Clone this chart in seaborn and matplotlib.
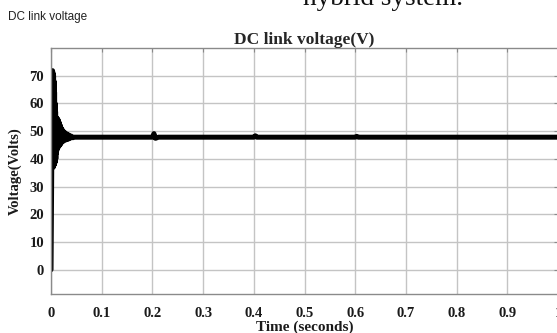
import matplotlib.pyplot as plt
import seaborn as sns
import pandas as pd

# DC link voltage trace (seconds, volts)
time_s = [0.0, 0.0015, 0.0020, 0.0025, 0.0030, 0.0035, 0.0040, 0.0045, 0.0050, 0.0055,
          0.0060, 0.0065, 0.0070, 0.0075, 0.0080, 0.0085, 0.0090, 0.0095, 0.0100, 0.0105,
          0.0110, 0.0115, 0.0120, 0.0125, 0.0130, 0.0135, 0.0140, 0.0145, 0.0150, 0.0155,
          0.0160, 0.0165, 0.0170, 0.0175, 0.0180, 0.0185, 0.0190, 0.0195, 0.0200, 0.0210,
          0.0220, 0.0230, 0.0240, 0.0250, 0.0270, 0.0290, 0.0310, 0.0330, 0.0350, 0.0370,
          0.0400, 0.0430, 0.0460,
          0.200, 0.203, 0.206, 0.212,
          0.400, 0.403, 0.406,
          0.600, 0.603, 0.606, 1.05]
voltage = [0.0, 40.0, 71.5, 38.0, 71.8, 37.0, 71.0, 37.0, 70.0, 37.5,
           68.0, 38.0, 64.0, 38.5, 60.0, 39.0, 57.0, 40.0, 55.0, 42.0,
           54.5, 43.0, 54.5, 44.0, 54.3, 44.0, 54.0, 44.5, 53.5, 44.5,
           53.0, 45.0, 52.5, 45.0, 52.0, 45.5, 51.5, 45.5, 51.0, 46.0,
           50.5, 46.2, 50.0, 46.5, 49.5, 46.8, 49.0, 47.0, 48.6, 47.3,
           48.2, 47.6, 47.8,
           47.8, 49.1, 47.4, 47.8,
           47.8, 48.3, 47.8,
           47.8, 48.1, 47.8, 47.8]

x_ticks = [0, 0.1, 0.2, 0.3, 0.4, 0.5, 0.6, 0.7, 0.8, 0.9, 1.0]
x_tick_labels = ["0", "0.1", "0.2", "0.3", "0.4", "0.5", "0.6", "0.7", "0.8", "0.9", "1"]
y_ticks = [0, 10, 20, 30, 40, 50, 60, 70]

df = pd.DataFrame({"Time": time_s, "Voltage": voltage})

sns.set_style("whitegrid")
plt.rcParams["font.family"] = ["Liberation Serif", "DejaVu Serif"]

fig = plt.figure(figsize=(5.57, 3.33), dpi=100)
ax = fig.add_axes([0.0916, 0.117, 0.9102, 0.739])

sns.lineplot(data=df, x="Time", y="Voltage", color="black", linewidth=3.6,
             sort=False, estimator=None, ax=ax)

ax.set_xlim(0, 1.0)
ax.set_ylim(-8.8, 80)
ax.set_xticks(x_ticks)
ax.set_xticklabels(x_tick_labels)
ax.set_yticks(y_ticks)

ax.grid(True, color="#c4c4c4", linewidth=1.0)
for side in ["left", "bottom", "top", "right"]:
    ax.spines[side].set_color("#8a8a8a")
    ax.spines[side].set_linewidth(1.0)

ax.tick_params(axis="both", direction="in", length=3, color="#8a8a8a",
               top=True, right=True, labelsize=10.5, labelcolor="#1a1a1a")
ax.tick_params(axis="x", pad=9)
ax.tick_params(axis="y", pad=5)
for lbl in ax.get_xticklabels() + ax.get_yticklabels():
    lbl.set_fontweight("bold")

ax.set_xlabel("Time (seconds)", fontsize=11, fontweight="bold", color="#1a1a1a")
ax.set_ylabel("Voltage(Volts)", fontsize=10.5, fontweight="bold", color="#1a1a1a")
ax.xaxis.set_label_coords(0.5, -0.106)
ax.yaxis.set_label_coords(-0.057, 0.5)
ax.set_title("DC link voltage(V)", fontsize=12.5, fontweight="bold", pad=3)

# screenshot remnants around the figure
fig.text(0.014, 0.95, "DC link voltage", fontsize=8.5, family="Liberation Sans",
         color="#222222", va="center")
fig.text(0.544, 0.985, "hybrid system.", fontsize=19.5, color="#111111", va="baseline")

fig.savefig("out.png", dpi=100)
